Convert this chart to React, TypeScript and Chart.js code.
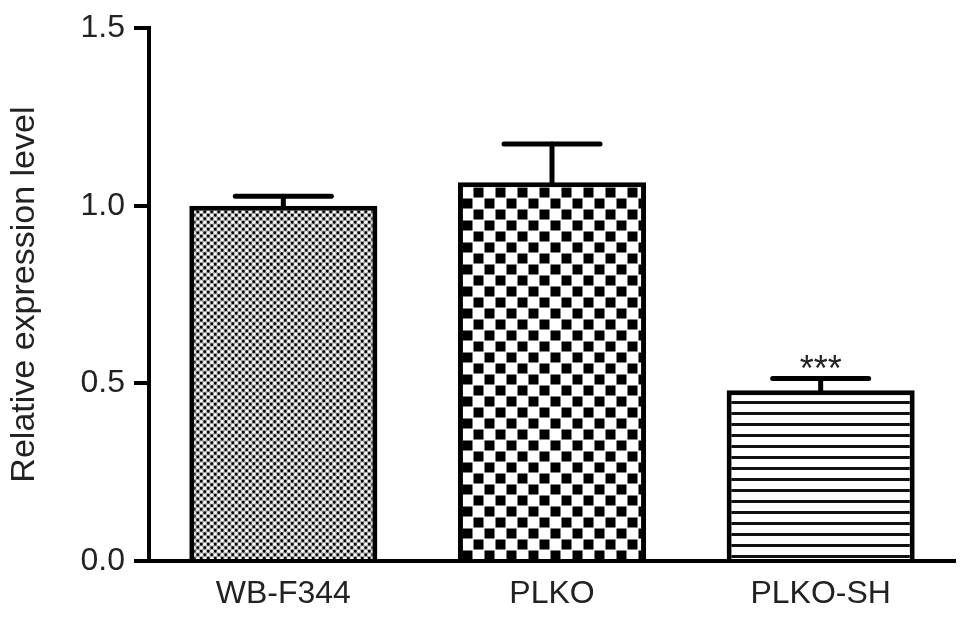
import React, { useEffect, useRef } from "react";
import { Chart, registerables } from "chart.js";

Chart.register(...registerables);

const categories = ["WB-F344", "PLKO", "PLKO-SH"];
const means = [1.0, 1.066, 0.481];
const errors = [0.027, 0.108, 0.033];
const significance = ["", "", "***"];
const yTicks = [0, 0.5, 1.0, 1.5];
const yTitle = "Relative expression level";

const FONT = "'Liberation Sans', Arial, Helvetica, sans-serif";

function dotPattern(ctx: CanvasRenderingContext2D) {
  const c = document.createElement("canvas");
  c.width = 7;
  c.height = 7;
  const g = c.getContext("2d")!;
  g.fillStyle = "#a8a8a8";
  g.fillRect(0, 0, 7, 7);
  g.fillStyle = "#000";
  g.beginPath();
  g.arc(1.75, 1.75, 1.4, 0, Math.PI * 2);
  g.arc(5.25, 5.25, 1.4, 0, Math.PI * 2);
  g.fill();
  g.fillStyle = "#fff";
  g.beginPath();
  g.arc(5.25, 1.75, 1.5, 0, Math.PI * 2);
  g.fill();
  g.beginPath();
  g.arc(1.75, 5.25, 1.5, 0, Math.PI * 2);
  g.fill();
  return ctx.createPattern(c, "repeat")!;
}

function checkerPattern(ctx: CanvasRenderingContext2D) {
  const s = 11;
  const c = document.createElement("canvas");
  c.width = s * 2;
  c.height = s * 2;
  const g = c.getContext("2d")!;
  g.fillStyle = "#fff";
  g.fillRect(0, 0, s * 2, s * 2);
  g.fillStyle = "#000";
  g.fillRect(0.5, 0.5, s - 1, s - 1);
  g.fillRect(s + 0.5, s + 0.5, s - 1, s - 1);
  return ctx.createPattern(c, "repeat")!;
}

function stripePattern(ctx: CanvasRenderingContext2D) {
  const c = document.createElement("canvas");
  c.width = 4;
  c.height = 11;
  const g = c.getContext("2d")!;
  g.fillStyle = "#fff";
  g.fillRect(0, 0, 4, 11);
  g.fillStyle = "#111";
  g.fillRect(0, 5, 4, 3);
  return ctx.createPattern(c, "repeat")!;
}

const errorBarPlugin = {
  id: "errorBars",
  afterDatasetsDraw(chart: any) {
    const ctx = chart.ctx as CanvasRenderingContext2D;
    const meta = chart.getDatasetMeta(0);
    const yScale = chart.scales.y;
    ctx.save();
    ctx.strokeStyle = "#000";
    ctx.lineWidth = 5;
    ctx.lineCap = "round";
    meta.data.forEach((bar: any, i: number) => {
      const x = bar.x;
      const yTop = yScale.getPixelForValue(means[i]);
      const yErr = yScale.getPixelForValue(means[i] + errors[i]);
      const half = 48;
      ctx.beginPath();
      ctx.moveTo(x, yTop);
      ctx.lineTo(x, yErr);
      ctx.stroke();
      ctx.beginPath();
      ctx.moveTo(x - half, yErr);
      ctx.lineTo(x + half, yErr);
      ctx.stroke();
      if (significance[i]) {
        ctx.fillStyle = "#222";
        ctx.font = `36px ${FONT}`;
        ctx.textAlign = "center";
        ctx.textBaseline = "alphabetic";
        ctx.fillText(significance[i], x, yErr + 3);
      }
    });
    ctx.restore();
  },
};

export default function App() {
  const ref = useRef<HTMLCanvasElement>(null);
  useEffect(() => {
    document.body.style.margin = "0";
    const canvas = ref.current!;
    const ctx = canvas.getContext("2d")!;
    const fills = [dotPattern(ctx), checkerPattern(ctx), stripePattern(ctx)];
    const chart = new Chart(canvas, {
      type: "bar",
      data: {
        labels: categories,
        datasets: [
          {
            data: means,
            backgroundColor: fills as any,
            borderColor: "#000",
            borderWidth: 5,
            borderSkipped: "bottom",
            categoryPercentage: 1,
            barPercentage: 0.7,
          },
        ],
      },
      options: {
        animation: false,
        responsive: false,
        maintainAspectRatio: false,
        layout: { padding: { left: 4, right: 14, top: 25, bottom: 0 } },
        plugins: { legend: { display: false }, tooltip: { enabled: false } },
        scales: {
          x: {
            grid: { display: false, drawTicks: false },
            border: { display: true, color: "#000", width: 4 },
            ticks: {
              color: "#222",
              font: { family: FONT, size: 32 },
              padding: 14,
            },
            afterFit: (s: any) => {
              s.height = 68;
            },
          },
          y: {
            min: 0,
            max: 1.5,
            afterBuildTicks: (s: any) => {
              s.ticks = yTicks.map((v) => ({ value: v }));
            },
            grid: {
              drawOnChartArea: false,
              drawTicks: true,
              tickLength: 15,
              color: "#000",
              lineWidth: 4,
            },
            border: { display: true, color: "#000", width: 4 },
            ticks: {
              color: "#222",
              font: { family: FONT, size: 32 },
              padding: 9,
              callback: (v: any) => Number(v).toFixed(1),
            },
            title: {
              display: true,
              text: yTitle,
              color: "#222",
              font: { family: FONT, size: 34 },
              padding: { top: 0, bottom: 0 },
            },
            afterFit: (s: any) => {
              s.width = 145;
            },
          },
        },
      },
      plugins: [errorBarPlugin],
    });
    return () => chart.destroy();
  }, []);
  return <canvas ref={ref} width={969} height={629} style={{ display: "block" }} />;
}
